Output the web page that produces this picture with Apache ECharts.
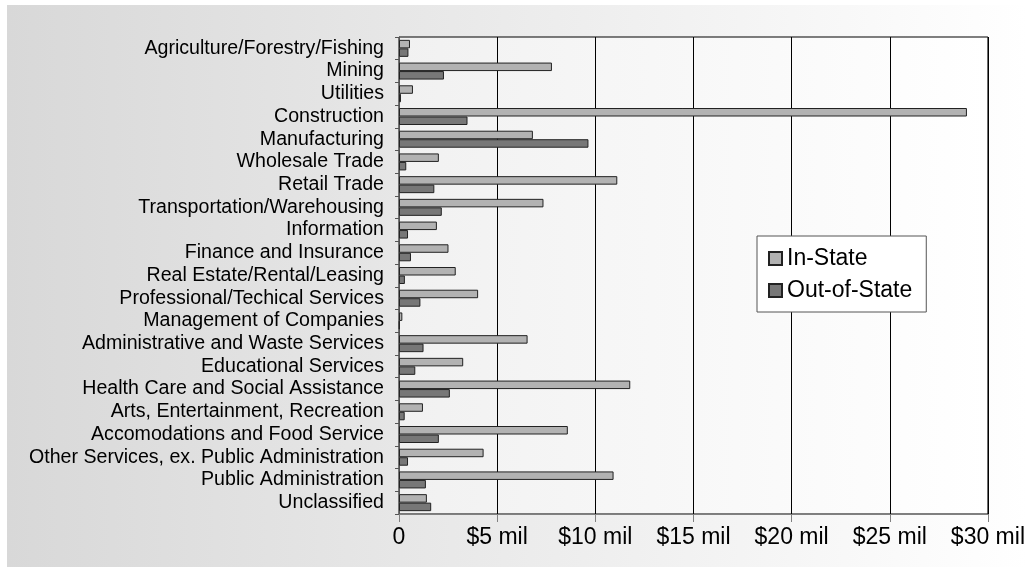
<!DOCTYPE html>
<html>
<head>
<meta charset="utf-8">
<script src="https://cdn.jsdelivr.net/npm/echarts@6/dist/echarts.min.js"></script>
<style>
  html, body { margin: 0; padding: 0; background: #fff; }
  #chart { width: 1028px; height: 573px; }
</style>
</head>
<body>
<div id="chart"></div>
<script>
// industries, top to bottom
const industries = [
  "Agriculture/Forestry/Fishing", "Mining", "Utilities", "Construction",
  "Manufacturing", "Wholesale Trade", "Retail Trade", "Transportation/Warehousing",
  "Information", "Finance and Insurance", "Real Estate/Rental/Leasing",
  "Professional/Techical Services", "Management of Companies",
  "Administrative and Waste Services", "Educational Services",
  "Health Care and Social Assistance", "Arts, Entertainment, Recreation",
  "Accomodations and Food Service", "Other Services, ex. Public Administration",
  "Public Administration", "Unclassified"
];
// values in $ millions
const inState = [0.56, 7.79, 0.71, 28.93, 6.82, 2.03, 11.12, 7.36, 1.93, 2.52, 2.89,
  4.03, 0.17, 6.55, 3.27, 11.78, 1.22, 8.6, 4.31, 10.93, 1.42];
const outOfState = [0.48, 2.29, 0.1, 3.49, 9.65, 0.37, 1.8, 2.18, 0.46, 0.61, 0.3,
  1.09, 0.03, 1.25, 0.83, 2.59, 0.29, 2.03, 0.46, 1.37, 1.64];
const xTicks = [0, 5, 10, 15, 20, 25, 30];

const chart = echarts.init(document.getElementById('chart'));
const font = 'Liberation Sans, Arial, sans-serif';

chart.setOption({
  animation: false,
  textStyle: { fontFamily: font },
  graphic: [{
    type: 'rect',
    z: -10,
    shape: { x: 7, y: 5, width: 1021, height: 562 },
    style: {
      fill: new echarts.graphic.LinearGradient(0, 0, 1, 0, [
        { offset: 0, color: '#d8d8d8' },
        { offset: 1, color: '#ffffff' }
      ])
    },
    silent: true
  }],
  grid: {
    left: 399, right: 38, top: 37, bottom: 59,
    show: true,
    borderColor: '#000',
    borderWidth: 1,
    backgroundColor: new echarts.graphic.LinearGradient(0, 0, 1, 0, [
      { offset: 0, color: '#f1f1f1' },
      { offset: 1, color: '#ffffff' }
    ])
  },
  legend: {
    orient: 'vertical',
    left: 757, top: 236,
    padding: [11, 14, 10, 11],
    itemGap: 9,
    itemWidth: 13, itemHeight: 13,
    backgroundColor: '#fff',
    borderColor: '#555',
    borderWidth: 1,
    icon: 'rect',
    textStyle: { fontSize: 23, color: '#000', fontFamily: font },
    data: ['In-State', 'Out-of-State']
  },
  xAxis: {
    type: 'value',
    min: 0, max: 30, interval: 5,
    axisLine: { show: true, lineStyle: { color: '#808080', width: 1 } },
    axisTick: { show: true, length: 8, lineStyle: { color: '#808080' } },
    splitLine: { show: true, lineStyle: { color: '#000', width: 1 } },
    axisLabel: {
      fontSize: 23, color: '#000', margin: 12, fontFamily: font,
      customValues: xTicks,
      formatter: v => v === 0 ? '0' : '$' + v + ' mil'
    }
  },
  yAxis: {
    type: 'category',
    inverse: true,
    data: industries,
    axisLine: { show: true, lineStyle: { color: '#555', width: 1 } },
    axisTick: { show: true, length: 4, lineStyle: { color: '#555' } },
    axisLabel: { interval: 0, fontSize: 19.6, color: '#000', margin: 15, fontFamily: font }
  },
  series: [
    {
      name: 'In-State', type: 'bar', data: inState,
      barWidth: 8.5, barGap: '0%',
      itemStyle: { color: '#b2b2b2', borderColor: '#222', borderWidth: 1 }
    },
    {
      name: 'Out-of-State', type: 'bar', data: outOfState,
      barWidth: 8.5, barGap: '0%',
      itemStyle: { color: '#777777', borderColor: '#222', borderWidth: 1 }
    }
  ]
});
</script>
</body>
</html>
